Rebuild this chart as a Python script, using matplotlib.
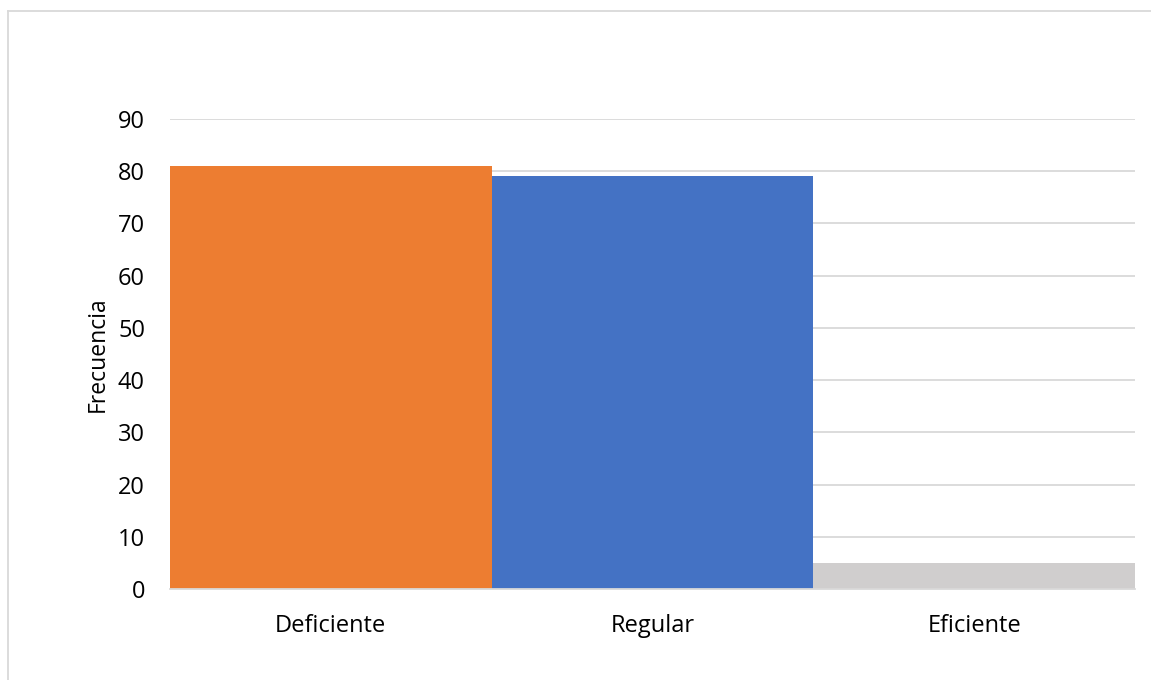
import matplotlib
matplotlib.use("Agg")
import matplotlib.pyplot as plt
from matplotlib.lines import Line2D

# data
categorias = ["Deficiente", "Regular", "Eficiente"]
frecuencia = [81, 79, 5]
colores = ["#ED7D31", "#4472C4", "#D0CECE"]
yticks = [0, 10, 20, 30, 40, 50, 60, 70, 80, 90]

plt.rcParams["font.family"] = ["Open Sans", "DejaVu Sans"]

W, H = 1151, 680
fig = plt.figure(figsize=(W / 100, H / 100), dpi=100)
ax = fig.add_axes([170 / W, 1 - 589 / H, (1135 - 170) / W, (589 - 119) / H])

x = range(len(categorias))
ax.bar(x, frecuencia, width=1.0, color=colores, zorder=2)

ax.set_xlim(-0.5, len(categorias) - 0.5)
ax.set_ylim(0, 90)
ax.set_yticks(yticks)
ax.set_xticks(list(x))
ax.set_xticklabels(categorias)
ax.tick_params(axis="both", length=0, labelsize=17, colors="#000000")
ax.tick_params(axis="y", pad=18)
ax.tick_params(axis="x", pad=18)
ax.yaxis.grid(True, color="#D9D9D9", linewidth=1.3, zorder=0)
for s in ["top", "right", "left"]:
    ax.spines[s].set_visible(False)
ax.spines["bottom"].set_color("#D9D9D9")
ax.spines["bottom"].set_linewidth(1.3)
ax.set_ylabel("Frecuencia", fontsize=16.5, labelpad=6)

# chart area border (only top and left show in the crop)
fig.add_artist(Line2D([8 / W, 8 / W], [0, 1 - 11 / H], transform=fig.transFigure,
                      color="#D9D9D9", linewidth=1.3))
fig.add_artist(Line2D([8 / W, 1], [1 - 11 / H, 1 - 11 / H], transform=fig.transFigure,
                      color="#D9D9D9", linewidth=1.3))

fig.savefig("out.png", dpi=100)
